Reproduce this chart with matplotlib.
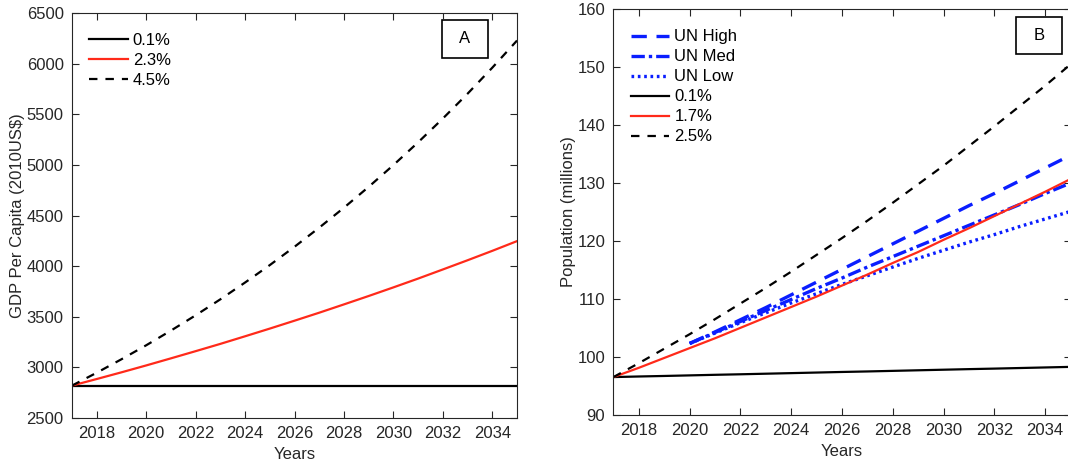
import matplotlib
matplotlib.use('Agg')
import matplotlib.pyplot as plt
from matplotlib.patches import Rectangle

plt.rcParams['font.family'] = ['Liberation Sans', 'DejaVu Sans']

years = list(range(2017, 2036))
un_years = list(range(2020, 2036))

# panel A: GDP per capita (2010US$)
gdp_01 = [2820] * 19
gdp_23 = [2820, 2885, 2951, 3019, 3089, 3160, 3232, 3307, 3383, 3461,
          3540, 3622, 3705, 3790, 3877, 3967, 4058, 4151, 4247]
gdp_45 = [2820, 2947, 3080, 3218, 3363, 3514, 3672, 3838, 4010, 4191,
          4380, 4577, 4783, 4998, 5223, 5458, 5703, 5960, 6228]

# panel B: population (millions)
un_high = [102.3, 104.3, 106.4, 108.5, 110.7, 112.9, 115.1, 117.3, 119.5,
           121.7, 123.9, 126.1, 128.2, 130.4, 132.6, 134.8]
un_med = [102.3, 104.2, 106.1, 108.0, 109.9, 111.8, 113.6, 115.5, 117.3,
          119.1, 120.9, 122.7, 124.5, 126.3, 128.2, 130.0]
un_low = [102.3, 104.1, 105.9, 107.6, 109.3, 110.9, 112.5, 114.0, 115.5,
          117.0, 118.4, 119.8, 121.1, 122.5, 123.8, 125.1]
pop_01 = [96.50, 96.60, 96.69, 96.79, 96.89, 96.98, 97.08, 97.18, 97.28, 97.38,
          97.47, 97.57, 97.67, 97.77, 97.87, 97.96, 98.06, 98.16, 98.26]
pop_17 = [96.5, 98.1, 99.8, 101.5, 103.2, 105.0, 106.8, 108.6, 110.4, 112.3,
          114.2, 116.2, 118.1, 120.2, 122.2, 124.3, 126.4, 128.5, 130.7]
pop_25 = [96.5, 98.9, 101.4, 103.9, 106.5, 109.2, 111.9, 114.7, 117.6, 120.5,
          123.5, 126.6, 129.8, 133.0, 136.4, 139.8, 143.3, 146.8, 150.5]

gray = '#262626'
fs = 12

fig = plt.figure(figsize=(10.68, 4.63), dpi=100)
axA = fig.add_axes([0.0674, 0.0972, 0.4167, 0.8747])
axB = fig.add_axes([0.5744, 0.1043, 0.428, 0.8756])


def style(ax):
    ax.set_xlim(2017, 2035)
    ax.set_xticks(range(2018, 2035, 2))
    ax.tick_params(direction='in', top=True, right=True, length=5,
                   width=0.8, colors=gray, labelsize=fs, pad=6)
    for s in ax.spines.values():
        s.set_color(gray)
        s.set_linewidth(0.8)
    ax.set_xlabel('Years', fontsize=fs, color=gray, labelpad=4)


dash = (0, (3.8, 3.6))

axA.plot(years, gdp_01, color='black', lw=1.6, label='0.1%')
axA.plot(years, gdp_23, color='#ff2a1a', lw=1.6, label='2.3%')
axA.plot(years, gdp_45, color='black', lw=1.6, ls=dash, label='4.5%')
style(axA)
axA.set_ylim(2500, 6500)
axA.set_yticks(range(2500, 6501, 500))
axA.set_ylabel('GDP Per Capita (2010US$)', fontsize=fs, color=gray, labelpad=1)
axA.legend(loc='upper left', bbox_to_anchor=(0.024, 0.967), frameon=False,
           fontsize=fs, handlelength=2.3, handletextpad=0.3,
           labelspacing=0.3, borderaxespad=0)
axA.add_patch(Rectangle((0.8315, 0.889), 0.1034, 0.094, transform=axA.transAxes,
                        fill=False, ec='black', lw=1.2))
axA.text(0.883, 0.936, 'A', transform=axA.transAxes, ha='center', va='center',
         fontsize=fs)

blue = '#0a1eff'
axB.plot(un_years, un_high, color=blue, lw=2.4, ls=(0, (4.6, 2.9)), label='UN High')
axB.plot(un_years, un_med, color=blue, lw=2.4, ls=(0, (4, 1.2, 1, 1.2)), label='UN Med')
axB.plot(un_years, un_low, color=blue, lw=2.4, ls=(0, (0.8, 1.1)), label='UN Low')
axB.plot(years, pop_01, color='black', lw=1.6, label='0.1%')
axB.plot(years, pop_17, color='#ff2a1a', lw=1.6, label='1.7%')
axB.plot(years, pop_25, color='black', lw=1.6, ls=dash, label='2.5%')
style(axB)
axB.set_ylim(90, 160)
axB.set_yticks(range(90, 161, 10))
axB.set_ylabel('Population (millions)', fontsize=fs, color=gray, labelpad=1)
axB.legend(loc='upper left', bbox_to_anchor=(0.024, 0.967), frameon=False,
           fontsize=fs, handlelength=2.3, handletextpad=0.3,
           labelspacing=0.3, borderaxespad=0)
axB.add_patch(Rectangle((0.881, 0.89), 0.1, 0.09, transform=axB.transAxes,
                        fill=False, ec='black', lw=1.2))
axB.text(0.931, 0.935, 'B', transform=axB.transAxes, ha='center', va='center',
         fontsize=fs)

fig.savefig('out.png', dpi=100)
